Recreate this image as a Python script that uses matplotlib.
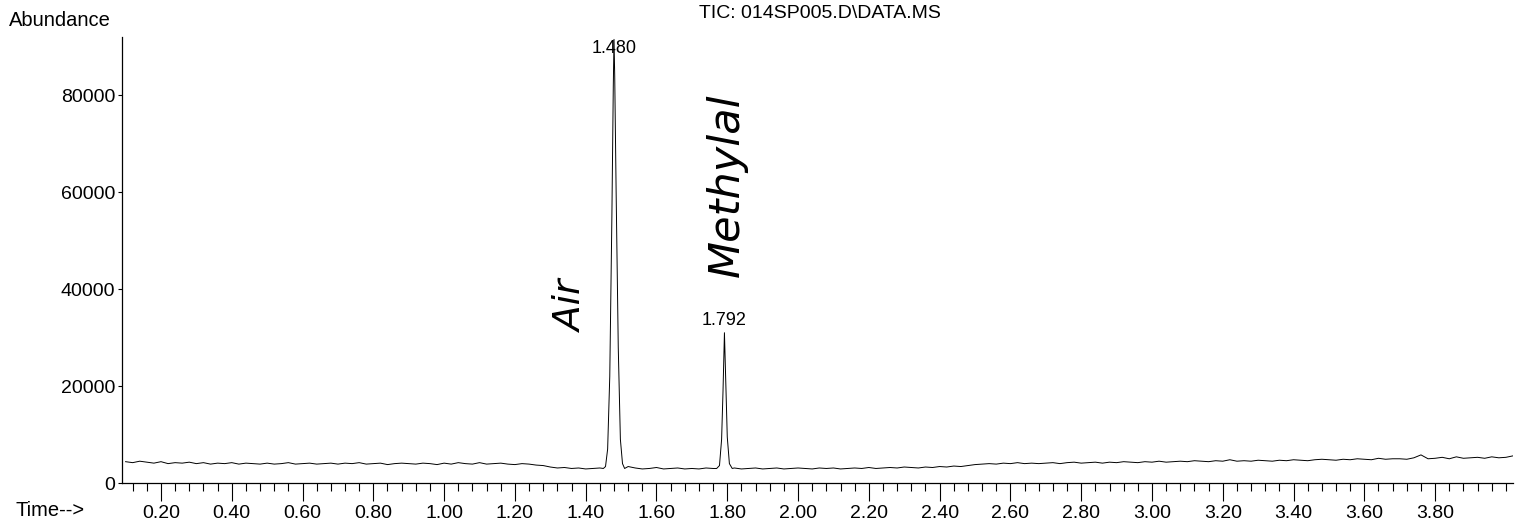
import numpy as np
import matplotlib
matplotlib.use("Agg")
import matplotlib.pyplot as plt

# baseline of the TIC trace, one value every 0.02 min starting at 0.10 min
base_start = 0.10
base_step = 0.02
base_abund = [
    4400, 4200, 4500, 4300, 4100, 4400, 4000, 4200, 4100, 4300,
    4000, 4200, 3900, 4100, 4000, 4200, 3900, 4100, 4000, 3900,
    4100, 3900, 4000, 4200, 3900, 4000, 4100, 3900, 4000, 4100,
    3900, 4100, 4000, 4200, 3900, 4000, 4100, 3800, 4000, 4100,
    4000, 3900, 4100, 4000, 3800, 4100, 3900, 4200, 4000, 3900,
    4200, 3900, 4000, 4100, 3900, 3800, 4000, 3900, 3700, 3600,
    3300, 3100, 3200, 3000, 3100, 2900, 3000, 3100, 2900, 3000,
    3000, 3400, 3100, 2900, 3000, 3200, 2900, 3000, 3100, 2900,
    3000, 2900, 3100, 3000, 2900, 3000, 3100, 2900, 3000, 3100,
    2900, 3000, 3100, 2900, 3000, 3100, 3000, 2900, 3100, 3000,
    3100, 2900, 3000, 3100, 3000, 3200, 3000, 3100, 3200, 3100,
    3300, 3200, 3100, 3300, 3200, 3400, 3300, 3500, 3400, 3600,
    3800, 3900, 4000, 3900, 4100, 4000, 4200, 4000, 4100, 4000,
    4100, 4200, 4000, 4200, 4300, 4100, 4200, 4300, 4100, 4300,
    4200, 4400, 4300, 4200, 4400, 4300, 4500, 4300, 4400, 4500,
    4400, 4600, 4500, 4400, 4600, 4500, 4800, 4500, 4600, 4500,
    4700, 4600, 4500, 4700, 4600, 4800, 4700, 4600, 4800, 4900,
    4800, 4700, 4900, 4800, 5000, 4900, 4800, 5100, 4900, 5000,
    5000, 4900, 5200, 5800, 5000, 5100, 5300, 5000, 5400, 5100,
    5200, 5300, 5100, 5400, 5200, 5300, 5600,
]

# peak at 1.480 (Air)
peak1_time = [1.450, 1.456, 1.462, 1.468, 1.474, 1.478, 1.480, 1.482, 1.486, 1.492, 1.498, 1.504, 1.510]
peak1_abund = [3000, 3400, 7000, 22000, 55000, 82000, 91500, 84000, 60000, 28000, 9000, 4000, 3000]
# peak at 1.792 (Methylal)
peak2_time = [1.770, 1.778, 1.784, 1.788, 1.792, 1.796, 1.800, 1.806, 1.814]
peak2_abund = [3000, 3600, 9000, 19000, 31000, 20000, 9500, 4000, 3000]

peak_labels = ["1.480", "1.792"]
peak_label_pos = [(1.480, 89700), (1.792, 33600)]

xticks = [0.20, 0.40, 0.60, 0.80, 1.00, 1.20, 1.40, 1.60, 1.80, 2.00,
          2.20, 2.40, 2.60, 2.80, 3.00, 3.20, 3.40, 3.60, 3.80]
yticks = [0, 20000, 40000, 60000, 80000]

plt.rcParams['font.family'] = ['Liberation Sans', 'DejaVu Sans']

base_time = base_start + base_step * np.arange(len(base_abund))
base_abund = np.array(base_abund, dtype=float)
keep = ~(((base_time > 1.445) & (base_time < 1.515)) | ((base_time > 1.765) & (base_time < 1.818)))
t = np.concatenate([base_time[keep], peak1_time, peak2_time])
y = np.concatenate([base_abund[keep], peak1_abund, peak2_abund])
order = np.argsort(t)
t, y = t[order], y[order]

fig = plt.figure(figsize=(15.18, 5.28), dpi=100)
ax = fig.add_axes([0.0804, 0.0852, 0.9163, 0.8448])
ax.plot(t, y, color='black', linewidth=0.7)

ax.set_xlim(0.09, 4.02)
ax.set_ylim(0, 92000)
ax.spines['top'].set_visible(False)
ax.spines['right'].set_visible(False)
ax.spines['left'].set_linewidth(0.9)
ax.spines['bottom'].set_linewidth(0.9)

ax.set_xticks(xticks)
ax.set_xticklabels(['%.2f' % v for v in xticks])
ax.set_xticks(np.arange(0.12, 4.02, 0.04), minor=True)
ax.set_yticks(yticks)
ax.set_yticklabels([str(v) for v in yticks])
ax.tick_params(axis='x', which='major', length=13, width=0.8, labelsize=14, pad=3)
ax.tick_params(axis='x', which='minor', length=6, width=0.8)
ax.tick_params(axis='y', which='major', length=3, width=0.8, labelsize=14, pad=2)

for lab, (px, py) in zip(peak_labels, peak_label_pos):
    ax.text(px, py, lab, ha='center', va='center', fontsize=13)

# handwritten notes on the printout
ax.text(1.362, 36500, "Air", rotation=90, ha='center', va='center',
        fontsize=27, style='italic', family='DejaVu Sans')
ax.text(1.800, 61400, "Methylal", rotation=90, ha='center', va='center',
        fontsize=31, style='italic', family='DejaVu Sans')

fig.text(0.006, 0.962, "Abundance", fontsize=14.5, ha='left', va='center')
fig.text(0.540, 0.975, "TIC: 014SP005.D\\DATA.MS", fontsize=14, ha='center', va='center')
fig.text(0.010, 0.034, "Time-->", fontsize=14.5, ha='left', va='center')

fig.savefig("out.png", dpi=100)
